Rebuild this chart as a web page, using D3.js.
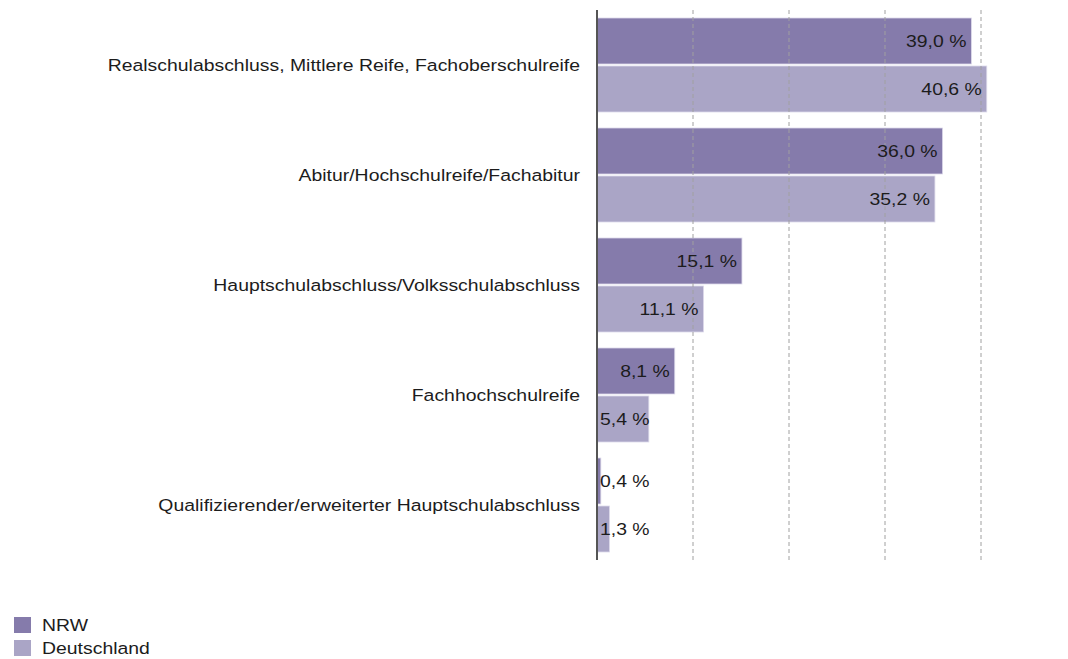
<!DOCTYPE html>
<html>
<head>
<meta charset="utf-8">
<script src="https://cdn.jsdelivr.net/npm/d3@7"></script>
<style>
  html, body { margin: 0; padding: 0; background: #ffffff; }
  svg { display: block; }
  text { font-family: "Liberation Sans", Arial, Helvetica, sans-serif; fill: #1c1c1c; }
</style>
</head>
<body>
<svg id="chart" width="1068" height="659"></svg>
<script>
const categories = [
  "Realschulabschluss, Mittlere Reife, Fachoberschulreife",
  "Abitur/Hochschulreife/Fachabitur",
  "Hauptschulabschluss/Volksschulabschluss",
  "Fachhochschulreife",
  "Qualifizierender/erweiterter Hauptschulabschluss"
];
const seriesNames = ["NRW", "Deutschland"];
const nrwValues = [39.0, 36.0, 15.1, 8.1, 0.4];
const deValues = [40.6, 35.2, 11.1, 5.4, 1.3];
const gridTicks = [10, 20, 30, 40];
const colors = ["#857bab", "#aaa5c6"];

const fmt = v => d3.format(".1f")(v).replace(".", ",") + " %";
const SX = 1.142; // horizontal text stretch of the reference
const FS = 17;

const svg = d3.select("#chart");

const x = d3.scaleLinear().domain([0, 40]).range([597, 981]);
const y = d3.scaleBand().domain(categories).range([10, 560])
  .paddingInner(16 / 110).paddingOuter(8 / 110);
const ySub = d3.scaleBand().domain(seriesNames).range([0, y.bandwidth()]).paddingInner(2 / 48);
const color = d3.scaleOrdinal().domain(seriesNames).range(colors);

const rows = [];
categories.forEach((c, i) => {
  rows.push({cat: c, s: "NRW", v: nrwValues[i]});
  rows.push({cat: c, s: "Deutschland", v: deValues[i]});
});

// bars
svg.append("g").selectAll("rect").data(rows).join("rect")
  .attr("x", x(0))
  .attr("y", d => y(d.cat) + ySub(d.s))
  .attr("width", d => x(d.v) - x(0))
  .attr("height", ySub.bandwidth())
  .attr("fill", d => color(d.s))
  .attr("stroke", "#dcd9ea")
  .attr("stroke-width", 0.8);

// grid lines
svg.append("g").selectAll("line").data(gridTicks).join("line")
  .attr("x1", d => x(d)).attr("x2", d => x(d))
  .attr("y1", 10).attr("y2", 560)
  .attr("stroke", "#a0a0a0")
  .attr("stroke-width", 1)
  .attr("stroke-dasharray", "4,3");

// axis line
svg.append("line")
  .attr("x1", x(0)).attr("x2", x(0))
  .attr("y1", 10).attr("y2", 560)
  .attr("stroke", "#555")
  .attr("stroke-width", 2);

function stretchedText(g, txt, tx, ty, anchor) {
  return g.append("text")
    .attr("transform", `translate(${tx},${ty}) scale(${SX},1)`)
    .attr("text-anchor", anchor)
    .attr("font-size", FS)
    .text(txt);
}

// category labels
const catG = svg.append("g");
categories.forEach(c => {
  stretchedText(catG, c, 580, y(c) + y.bandwidth() / 2 + 6, "end");
});

// value labels
const valG = svg.append("g");
rows.forEach(d => {
  const t = fmt(d.v);
  const tmp = valG.append("text").attr("font-size", FS).text(t);
  const w = tmp.node().getComputedTextLength() * SX;
  tmp.remove();
  const barW = x(d.v) - x(0);
  const cy = y(d.cat) + ySub(d.s) + ySub.bandwidth() / 2 + 6;
  if (barW >= w + 10) {
    stretchedText(valG, t, x(d.v) - 5, cy, "end");
  } else {
    stretchedText(valG, t, x(0) + 3, cy, "start");
  }
});

// legend
const leg = svg.append("g");
seriesNames.forEach((s, i) => {
  leg.append("rect")
    .attr("x", 14).attr("y", 617 + i * 23)
    .attr("width", 17).attr("height", 16)
    .attr("fill", color(s));
  stretchedText(leg, s, 42, 631 + i * 23, "start");
});
</script>
</body>
</html>
